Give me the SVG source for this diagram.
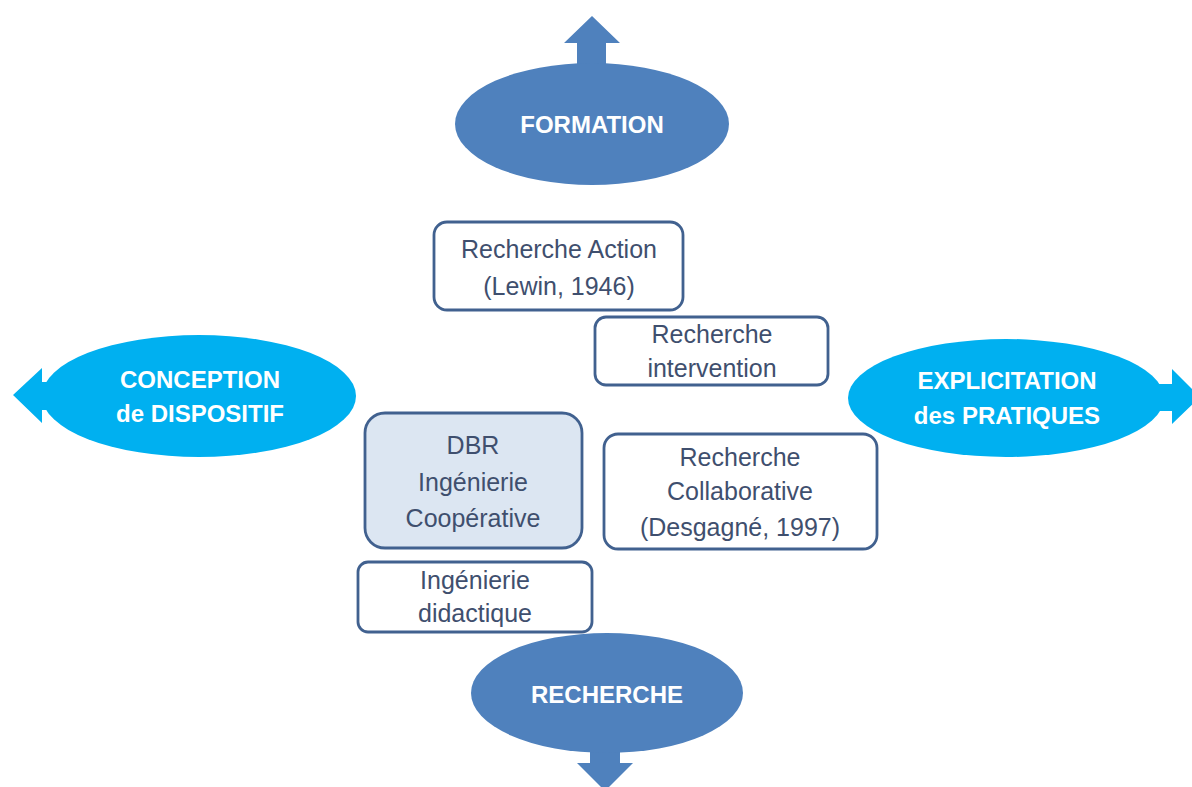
<svg xmlns="http://www.w3.org/2000/svg" width="1192" height="787" viewBox="0 0 1192 787">
<style>
.dark{fill:#4f81bd}
.light{fill:#00b0f0}
.et{font-family:"Liberation Sans",Arial,sans-serif;font-weight:bold;font-size:24px;fill:#ffffff;text-anchor:middle}
.box{fill:#ffffff;stroke:#41618f;stroke-width:2.8}
.boxf{fill:#dce6f2;stroke:#41618f;stroke-width:2.8}
.bt{font-family:"Liberation Sans",Arial,sans-serif;font-size:25px;fill:#3f4f6e;text-anchor:middle}
</style>
<rect width="1192" height="787" fill="#ffffff"/>
<g id="connectors"></g>
<g id="formation">
<path class="dark" d="M577,75 L577,43 L564,43 L592,16 L620,43 L606,43 L606,75 Z"/>
<ellipse class="dark" cx="592" cy="124" rx="137" ry="61"/>
<text class="et" x="592" y="133">FORMATION</text>
</g>
<g id="conception">
<path class="light" d="M65,382 L42,382 L42,368 L13,395 L42,423 L42,410 L65,410 Z"/>
<ellipse class="light" cx="199" cy="396" rx="157" ry="61"/>
<text class="et" x="200" y="388">CONCEPTION</text>
<text class="et" x="200" y="422">de DISPOSITIF</text>
</g>
<g id="explicitation">
<path class="light" d="M1140,384 L1172,384 L1172,369 L1200,397 L1172,424 L1172,411 L1140,411 Z"/>
<ellipse class="light" cx="1006" cy="398" rx="158" ry="59"/>
<text class="et" x="1007" y="389">EXPLICITATION</text>
<text class="et" x="1007" y="424">des PRATIQUES</text>
</g>
<g id="recherche">
<path class="dark" d="M590,740 L590,763 L577,763 L605,791 L633,763 L620,763 L620,740 Z"/>
<ellipse class="dark" cx="607" cy="693" rx="136" ry="60"/>
<text class="et" x="607" y="703">RECHERCHE</text>
</g>
<g id="recherche-action">
<rect class="box" x="434" y="222" width="249" height="88" rx="13"/>
<text class="bt" x="559" y="258">Recherche Action</text>
<text class="bt" x="559" y="295">(Lewin, 1946)</text>
</g>
<g id="recherche-intervention">
<rect class="box" x="595" y="317" width="233" height="68" rx="11"/>
<text class="bt" x="712" y="343">Recherche</text>
<text class="bt" x="712" y="377">intervention</text>
</g>
<g id="dbr">
<rect class="boxf" x="365" y="413" width="217" height="135" rx="20"/>
<text class="bt" x="473" y="454">DBR</text>
<text class="bt" x="473" y="491">Ingénierie</text>
<text class="bt" x="473" y="527">Coopérative</text>
</g>
<g id="ingenierie-didactique">
<rect class="box" x="358" y="562" width="234" height="70" rx="10"/>
<text class="bt" x="475" y="589">Ingénierie</text>
<text class="bt" x="475" y="622">didactique</text>
</g>
<g id="recherche-collaborative">
<rect class="box" x="604" y="434" width="273" height="115" rx="14"/>
<text class="bt" x="740" y="466">Recherche</text>
<text class="bt" x="740" y="500">Collaborative</text>
<text class="bt" x="740" y="536">(Desgagné, 1997)</text>
</g>
</svg>
